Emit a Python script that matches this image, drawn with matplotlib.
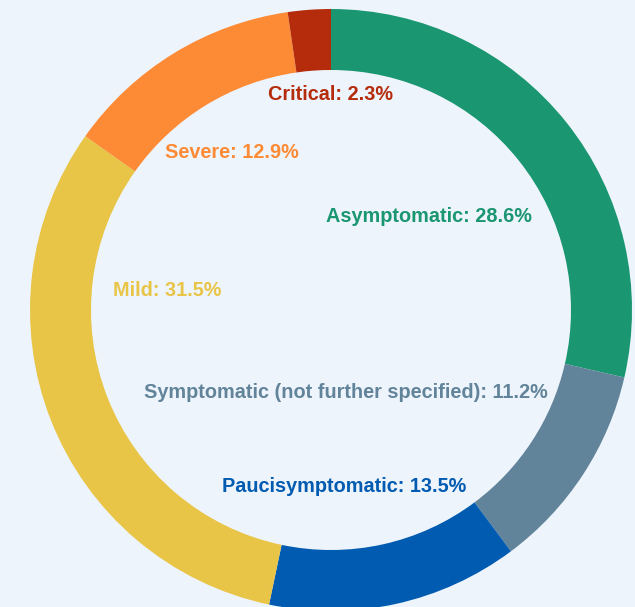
import matplotlib.pyplot as plt

# severity categories, clockwise from 12 o'clock
categories = ["Asymptomatic", "Symptomatic (not further specified)", "Paucisymptomatic",
              "Mild", "Severe", "Critical"]
shares = [28.6, 11.2, 13.5, 31.5, 12.9, 2.3]
colors = ["#1a9671", "#62849a", "#005bb1", "#e8c547", "#fd8a35", "#b52c0c"]

BG = "#eef4fb"
CX, CY, R = 331, 310, 301   # centre and radius in pixels

# label spots in pixels (manual placement as in the source)
label_px = [(429, 216), (346, 392), (344, 487), (167, 291), (232, 152), (330, 94)]

fig = plt.figure(figsize=(6.35, 6.07), dpi=100)
fig.patch.set_facecolor(BG)
ax = fig.add_axes([0, 0, 1, 1])
ax.set_facecolor(BG)

ax.pie(shares, colors=colors, startangle=90, counterclock=False, radius=1,
       wedgeprops=dict(width=61 / R, edgecolor="none"))

ax.set_aspect("auto")
ax.set_xlim(-CX / R, (635 - CX) / R)
ax.set_ylim((CY - 607) / R, CY / R)
ax.axis("off")

def px2data(px, py):
    return (px - CX) / R, (CY - py) / R

for name, val, col, (px, py) in zip(categories, shares, colors, label_px):
    x, y = px2data(px, py)
    ax.text(x, y, f"{name}: {val}%", color=col, ha="center", va="center",
            fontsize=14.3, fontweight="bold", family=["Liberation Sans", "DejaVu Sans"])

fig.savefig("out.png", dpi=100, facecolor=BG)
